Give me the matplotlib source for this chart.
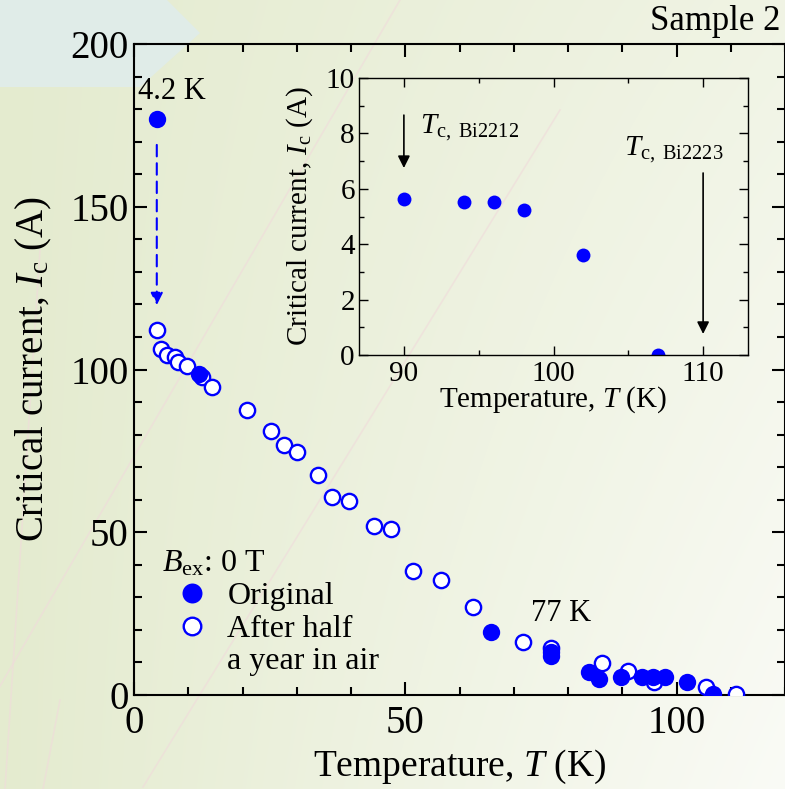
import numpy as np
import matplotlib
matplotlib.use('Agg')
import matplotlib.pyplot as plt
from matplotlib.lines import Line2D
from matplotlib.patches import Polygon

plt.rcParams['font.family'] = ['Liberation Serif', 'DejaVu Serif']
plt.rcParams['mathtext.fontset'] = 'custom'
plt.rcParams['mathtext.rm'] = 'Liberation Serif'
plt.rcParams['mathtext.it'] = 'Liberation Serif:italic'

# ---------------- data ----------------
# Original sample (filled circles)
orig_T = [4.2, 12.0, 65.8, 76.9, 76.9, 83.8, 85.8, 89.7, 93.7, 95.7, 97.8, 101.9, 106.8]
orig_I = [177.0, 98.6, 19.3, 13.2, 12.0, 7.0, 4.8, 5.6, 5.4, 5.6, 5.4, 4.1, 0.2]

# After half a year in air (open circles)
aged_T = [4.2, 4.9, 6.0, 7.6, 8.2, 9.8, 12.5, 14.4, 20.8, 25.2, 27.7, 30.1, 33.9, 36.5,
          39.7, 44.3, 47.3, 51.4, 56.5, 62.4, 71.7, 76.9, 86.2, 91.0, 95.9, 105.4, 111.0]
aged_I = [112.1, 106.2, 104.5, 103.9, 102.4, 101.1, 97.8, 94.5, 87.6, 81.1, 76.8, 74.6, 67.6, 60.7,
          59.6, 51.9, 50.9, 38.2, 35.3, 26.9, 16.4, 14.3, 9.7, 7.5, 4.1, 2.4, 0.2]

# Inset: original sample near Tc
inset_T = [90, 94, 96, 98, 102, 107]
inset_I = [5.63, 5.52, 5.52, 5.23, 3.61, 0.0]

main_xticks = [0, 50, 100]
main_yticks = [0, 50, 100, 150, 200]
inset_xticks = [90, 100, 110]
inset_yticks = [0, 2, 4, 6, 8, 10]

Tc_2212 = 90
Tc_2223 = 110

# ---------------- figure ----------------
W, H = 785, 789
fig = plt.figure(figsize=(W / 100, H / 100), dpi=100)

# slide-like background
bg = fig.add_axes([0, 0, 1, 1], zorder=-10)
yy, xx = np.mgrid[0:H, 0:W]
w = (xx / W) * (0.55 + 0.45 * yy / H)
w = np.clip(w, 0, 1)
green = np.array([228, 235, 207]) / 255
white = np.array([250, 251, 246]) / 255
img = green[None, None, :] * (1 - w[..., None]) + white[None, None, :] * w[..., None]
bg.imshow(img, extent=[0, W, H, 0], aspect='auto', interpolation='bilinear')
bg.add_patch(Polygon([[0, 0], [167, 0], [200, 33], [140, 87], [0, 87]], closed=True,
                     fc=(224 / 255, 236 / 255, 232 / 255), ec='none'))
for (x0, y0, x1, y1) in [(-60, 789, 400, 0), (143, 787, 560, 110), (5, 789, 40, 250), (60, 700, 43, 789)]:
    bg.plot([x0, x1], [y0, y1], color=(0.94, 0.86, 0.86), lw=1.2, alpha=0.6)
bg.set_xlim(0, W)
bg.set_ylim(H, 0)
bg.axis('off')

# main axes
ax = fig.add_axes([134 / W, 1 - 695 / H, 1 - 134 / W, (695 - 44) / H])
ax.patch.set_alpha(0)
h_aged, = ax.plot(aged_T, aged_I, 'o', ms=11, mfc='white', mec='blue', mew=1.7, ls='none', zorder=3)
h_orig, = ax.plot(orig_T, orig_I, 'o', ms=12.5, mfc='blue', mec='blue', mew=0, ls='none', zorder=4)
ax.set_xlim(0, 120)
ax.set_ylim(0, 200)
ax.set_xticks(main_xticks)
ax.set_xticks(np.arange(0, 121, 10), minor=True)
ax.set_yticks(main_yticks)
ax.set_yticks(np.arange(0, 201, 10), minor=True)
ax.tick_params(which='both', direction='in', top=True, right=True, labelsize=28, width=1.5)
ax.tick_params(which='major', length=9.5)
ax.tick_params(which='minor', length=5.5)
ax.tick_params(axis='x', pad=7)
ax.tick_params(axis='y', pad=4)
for s in ax.spines.values():
    s.set_linewidth(1.5)
ax.set_xlabel('Temperature, $T$ (K)', fontsize=27)
ax.set_ylabel('Critical current, $I_{\\rm c}$ (A)', fontsize=28)
ax.xaxis.set_label_coords(0.5, -0.081)
ax.yaxis.set_label_coords(-0.123, 0.5)

ax.annotate('', xy=(orig_T[0], 119.8), xytext=(orig_T[0], 169),
            arrowprops=dict(arrowstyle='-|>', color='blue', lw=1.5, ls=(0, (5.5, 3.3)),
                            mutation_scale=18, shrinkA=0, shrinkB=0))
ax.text(0.8, 185.5, '4.2 K', fontsize=22, ha='left', va='center')
ax.text(78.8, 24.9, '77 K', fontsize=22, ha='center', va='center')

blank = Line2D([], [], ls='none', marker='')
leg = ax.legend([h_orig, h_aged, blank], ['Original', 'After half', 'a year in air'],
                title='$B_{\\rm ex}$: 0 T', loc='upper left', bbox_to_anchor=(0.043, 0.224),
                frameon=False, fontsize=23, title_fontsize=23, handlelength=1.9,
                handletextpad=0.15, labelspacing=0.1, borderpad=0, borderaxespad=0,
                markerscale=1.15, alignment='left')

# inset
ins = fig.add_axes([359 / W, 1 - 355 / H, (748 - 359) / W, (355 - 78) / H])
ins.patch.set_alpha(0)
ins.plot(inset_T, inset_I, 'o', ms=10, color='blue', mew=0, ls='none')
ins.set_xlim(87, 113)
ins.set_ylim(0, 10)
ins.set_xticks(inset_xticks)
ins.set_xticks(np.arange(90, 113, 5), minor=True)
ins.set_yticks(inset_yticks)
ins.set_yticks(np.arange(0, 11, 1), minor=True)
ins.tick_params(which='both', direction='in', top=True, right=True, labelsize=21, width=1)
ins.tick_params(which='major', length=6.5)
ins.tick_params(which='minor', length=3.5)
ins.tick_params(axis='x', pad=4)
ins.tick_params(axis='y', pad=3)
for s in ins.spines.values():
    s.set_linewidth(1)
ins.set_xlabel('Temperature, $T$ (K)', fontsize=21)
ins.set_ylabel('Critical current, $I_{\\rm c}$ (A)', fontsize=21)
ins.xaxis.set_label_coords(0.5, -0.105)
ins.yaxis.set_label_coords(-0.113, 0.5)

ins.annotate('', xy=(Tc_2212, 6.75), xytext=(Tc_2212, 8.66),
             arrowprops=dict(arrowstyle='-|>', color='k', lw=1.2, mutation_scale=18, shrinkA=0, shrinkB=0))
ins.annotate('', xy=(Tc_2223, 0.76), xytext=(Tc_2223, 6.57),
             arrowprops=dict(arrowstyle='-|>', color='k', lw=1.2, mutation_scale=18, shrinkA=0, shrinkB=0))
ins.text(91.1, 8.0, '$T_{\\rm c,\\ Bi2212}$', fontsize=21, va='baseline')
ins.text(104.7, 7.2, '$T_{\\rm c,\\ Bi2223}$', fontsize=21, va='baseline')

fig.text(780 / W, 1 - 22 / H, 'Sample 2', ha='right', va='center', fontsize=25)

fig.savefig('out.png', dpi=100)
